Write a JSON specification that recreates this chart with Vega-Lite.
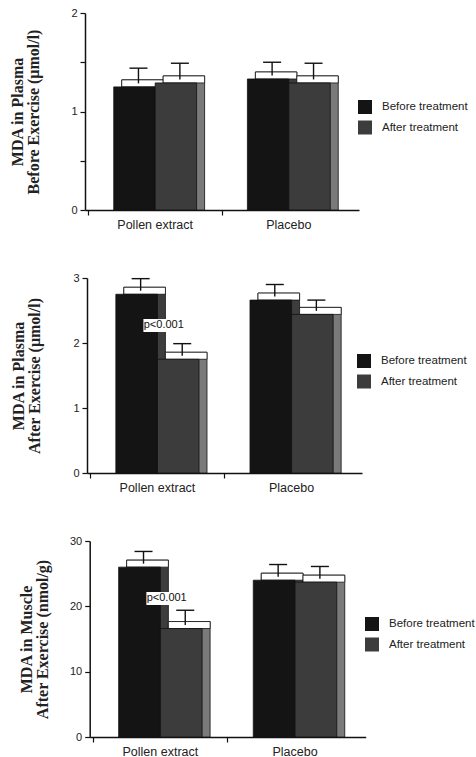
{
  "$schema": "https://vega.github.io/schema/vega-lite/v6.json",
  "background": "white",
  "padding": {"left": 9, "top": 7, "right": 0, "bottom": 0},
  "spacing": 68,
  "bounds": "flush",
  "resolve": {"scale": {"color": "independent"}, "legend": {"color": "independent"}},
  "config": {
    "view": {"stroke": null},
    "axis": {
      "domainColor": "#111111", "domainWidth": 1.5, "tickColor": "#111111", "tickWidth": 1.2, "tickSize": 5,
      "labelFont": "Liberation Sans", "labelColor": "#222222", "grid": false,
      "titleFont": "Liberation Serif", "titleFontSize": 16, "titleFontWeight": "bold", "titleColor": "#222222", "titleLineHeight": 16
    },
    "axisX": {"labelFontSize": 12.5, "labelPadding": 3, "labelAngle": 0},
    "axisY": {"labelFontSize": 11, "labelPadding": 3},
    "legend": {
      "orient": "none", "title": null, "symbolType": "square", "symbolSize": 196, "symbolStrokeWidth": 0,
      "labelFont": "Liberation Sans", "labelFontSize": 11.5, "labelColor": "#222222", "labelOffset": 10, "rowPadding": 6.5, "padding": 0
    }
  },
  "datasets": {
    "plasma_before": [
      {"group": "Pollen extract", "treat": "Before treatment", "value": 1.25, "hi": 1.44},
      {"group": "Pollen extract", "treat": "After treatment", "value": 1.29, "hi": 1.49},
      {"group": "Placebo", "treat": "Before treatment", "value": 1.33, "hi": 1.50},
      {"group": "Placebo", "treat": "After treatment", "value": 1.29, "hi": 1.49}
    ],
    "plasma_after": [
      {"group": "Pollen extract", "treat": "Before treatment", "value": 2.75, "hi": 2.99},
      {"group": "Pollen extract", "treat": "After treatment", "value": 1.75, "hi": 1.99},
      {"group": "Placebo", "treat": "Before treatment", "value": 2.66, "hi": 2.90},
      {"group": "Placebo", "treat": "After treatment", "value": 2.44, "hi": 2.66}
    ],
    "muscle_after": [
      {"group": "Pollen extract", "treat": "Before treatment", "value": 26.0, "hi": 28.4},
      {"group": "Pollen extract", "treat": "After treatment", "value": 16.6, "hi": 19.4},
      {"group": "Placebo", "treat": "Before treatment", "value": 24.0, "hi": 26.4},
      {"group": "Placebo", "treat": "After treatment", "value": 23.7, "hi": 26.1}
    ],
    "note_plasma": [
      {"group": "Pollen extract", "label": "p<0.001", "lo": 2.17, "mid": 2.27, "hi": 2.37}
    ],
    "note_muscle": [
      {"group": "Pollen extract", "label": "p<0.001", "lo": 20.2, "mid": 21.2, "hi": 22.2}
    ]
  },
  "vconcat": [
    {
      "width": 274, "height": 197,
      "data": {"name": "plasma_before"},
      "resolve": {"scale": {"x": "independent", "xOffset": "independent"}, "axis": {"x": "independent"}},
      "layer": [
        {"mark": {"type": "bar", "yOffset": -7, "y2Offset": 0, "stroke": "#111111", "strokeWidth": 0.8},
         "encoding": {
           "x": {"field": "group", "type": "nominal", "scale": {"domain": ["Pollen extract", "Placebo"], "range": [8, 282], "paddingInner": 0.38, "paddingOuter": 0.215}, "axis": null},
           "xOffset": {"field": "treat", "type": "nominal", "scale": {"domain": ["Before treatment", "After treatment"], "paddingInner": 0, "paddingOuter": 0}},
           "y": {"field": "value", "type": "quantitative", "scale": {"domain": [0, 2], "nice": false},
             "axis": {"title": ["MDA in Plasma", "Before Exercise (μmol/l)"], "values": [0, 0.5, 1, 1.5, 2], "labelExpr": "datum.value % 1 == 0 ? format(datum.value, 'd') : ''", "titlePadding": 29}},
           "y2": {"datum": 0},
           "fill": {"condition": {"test": "datum.treat == 'Before treatment'", "value": "#3d3d3d"}, "value": "#7a7a7a"}
         }},
        {"mark": {"type": "bar", "yOffset": -7, "y2Offset": 0, "fill": "white", "stroke": "#111111", "strokeWidth": 0.8},
         "encoding": {
           "x": {"field": "group", "type": "nominal", "scale": {"domain": ["Pollen extract", "Placebo"], "range": [8, 282], "paddingInner": 0.38, "paddingOuter": 0.215}, "axis": null},
           "xOffset": {"field": "treat", "type": "nominal", "scale": {"domain": ["Before treatment", "After treatment"], "paddingInner": 0, "paddingOuter": 0}},
           "y": {"field": "value", "type": "quantitative"},
           "y2": {"field": "value"}
         }},
        {"mark": {"type": "bar", "stroke": "#111111", "strokeWidth": 0.8},
         "encoding": {
           "x": {"field": "group", "type": "nominal", "scale": {"domain": ["Pollen extract", "Placebo"], "range": [0, 274], "paddingInner": 0.38, "paddingOuter": 0.215},
             "axis": {"title": null, "orient": "bottom", "bandPosition": -0.306}},
           "xOffset": {"field": "treat", "type": "nominal", "scale": {"domain": ["Before treatment", "After treatment"], "paddingInner": 0, "paddingOuter": 0}},
           "y": {"field": "value", "type": "quantitative"},
           "color": {"field": "treat", "type": "nominal", "scale": {"domain": ["Before treatment", "After treatment"], "range": ["#141414", "#3c3c3c"]},
             "legend": {"legendX": 273, "legendY": 87}}
         }},
        {"mark": {"type": "rule", "yOffset": -3.5, "strokeWidth": 1.4, "color": "#111111"},
         "encoding": {
           "x": {"field": "group", "type": "nominal", "scale": {"domain": ["Pollen extract", "Placebo"], "range": [4, 278], "paddingInner": 0.38, "paddingOuter": 0.215}, "axis": null},
           "xOffset": {"field": "treat", "type": "nominal", "scale": {"domain": ["Before treatment", "After treatment"], "paddingInner": 0, "paddingOuter": 0}},
           "y": {"field": "value", "type": "quantitative"},
           "y2": {"field": "hi"}
         }},
        {"mark": {"type": "tick", "size": 18, "thickness": 1.4, "color": "#111111", "opacity": 1},
         "encoding": {
           "x": {"field": "group", "type": "nominal", "scale": {"domain": ["Pollen extract", "Placebo"], "range": [4, 278], "paddingInner": 0.38, "paddingOuter": 0.215}, "axis": null},
           "xOffset": {"field": "treat", "type": "nominal", "scale": {"domain": ["Before treatment", "After treatment"], "paddingInner": 0, "paddingOuter": 0}},
           "y": {"field": "hi", "type": "quantitative"}
         }}
      ]
    },
    {
      "width": 274, "height": 195,
      "data": {"name": "plasma_after"},
      "resolve": {"scale": {"x": "independent", "xOffset": "independent"}, "axis": {"x": "independent"}},
      "layer": [
        {"mark": {"type": "bar", "yOffset": -7, "y2Offset": 0, "stroke": "#111111", "strokeWidth": 0.8},
         "encoding": {
           "x": {"field": "group", "type": "nominal", "scale": {"domain": ["Pollen extract", "Placebo"], "range": [10, 285], "paddingInner": 0.38, "paddingOuter": 0.215}, "axis": null},
           "xOffset": {"field": "treat", "type": "nominal", "scale": {"domain": ["Before treatment", "After treatment"], "paddingInner": 0, "paddingOuter": 0}},
           "y": {"field": "value", "type": "quantitative", "scale": {"domain": [0, 3], "nice": false},
             "axis": {"title": ["MDA in Plasma", "After Exercise (μmol/l)"], "values": [0, 0.5, 1, 1.5, 2, 2.5, 3], "labelExpr": "datum.value % 1 == 0 ? format(datum.value, 'd') : ''", "titlePadding": 30, "offset": -2}},
           "y2": {"datum": 0},
           "fill": {"condition": {"test": "datum.treat == 'Before treatment'", "value": "#3d3d3d"}, "value": "#7a7a7a"}
         }},
        {"mark": {"type": "bar", "yOffset": -7, "y2Offset": 0, "fill": "white", "stroke": "#111111", "strokeWidth": 0.8},
         "encoding": {
           "x": {"field": "group", "type": "nominal", "scale": {"domain": ["Pollen extract", "Placebo"], "range": [10, 285], "paddingInner": 0.38, "paddingOuter": 0.215}, "axis": null},
           "xOffset": {"field": "treat", "type": "nominal", "scale": {"domain": ["Before treatment", "After treatment"], "paddingInner": 0, "paddingOuter": 0}},
           "y": {"field": "value", "type": "quantitative"},
           "y2": {"field": "value"}
         }},
        {"mark": {"type": "bar", "stroke": "#111111", "strokeWidth": 0.8},
         "encoding": {
           "x": {"field": "group", "type": "nominal", "scale": {"domain": ["Pollen extract", "Placebo"], "range": [2, 277], "paddingInner": 0.38, "paddingOuter": 0.215},
             "axis": {"title": null, "orient": "bottom", "bandPosition": -0.306}},
           "xOffset": {"field": "treat", "type": "nominal", "scale": {"domain": ["Before treatment", "After treatment"], "paddingInner": 0, "paddingOuter": 0}},
           "y": {"field": "value", "type": "quantitative"},
           "color": {"field": "treat", "type": "nominal", "scale": {"domain": ["Before treatment", "After treatment"], "range": ["#141414", "#3c3c3c"]},
             "legend": {"legendX": 272, "legendY": 76}}
         }},
        {"mark": {"type": "rule", "yOffset": -3.5, "strokeWidth": 1.4, "color": "#111111"},
         "encoding": {
           "x": {"field": "group", "type": "nominal", "scale": {"domain": ["Pollen extract", "Placebo"], "range": [6, 281], "paddingInner": 0.38, "paddingOuter": 0.215}, "axis": null},
           "xOffset": {"field": "treat", "type": "nominal", "scale": {"domain": ["Before treatment", "After treatment"], "paddingInner": 0, "paddingOuter": 0}},
           "y": {"field": "value", "type": "quantitative"},
           "y2": {"field": "hi"}
         }},
        {"mark": {"type": "tick", "size": 18, "thickness": 1.4, "color": "#111111", "opacity": 1},
         "encoding": {
           "x": {"field": "group", "type": "nominal", "scale": {"domain": ["Pollen extract", "Placebo"], "range": [6, 281], "paddingInner": 0.38, "paddingOuter": 0.215}, "axis": null},
           "xOffset": {"field": "treat", "type": "nominal", "scale": {"domain": ["Before treatment", "After treatment"], "paddingInner": 0, "paddingOuter": 0}},
           "y": {"field": "hi", "type": "quantitative"}
         }},
        {"data": {"name": "note_plasma"},
         "mark": {"type": "bar", "width": 44, "fill": "white"},
         "encoding": {
           "x": {"field": "group", "type": "nominal", "scale": {"domain": ["Pollen extract", "Placebo"], "range": [10, 285], "paddingInner": 0.38, "paddingOuter": 0.215}, "axis": null},
           "y": {"field": "lo", "type": "quantitative"}, "y2": {"field": "hi"}}},
        {"data": {"name": "note_plasma"},
         "mark": {"type": "text", "font": "Liberation Sans", "fontSize": 11, "color": "#111111", "baseline": "middle"},
         "encoding": {
           "x": {"field": "group", "type": "nominal", "scale": {"domain": ["Pollen extract", "Placebo"], "range": [10, 285], "paddingInner": 0.38, "paddingOuter": 0.215}, "axis": null},
           "y": {"field": "mid", "type": "quantitative"}, "text": {"field": "label"}}}
      ]
    },
    {
      "width": 274, "height": 196,
      "data": {"name": "muscle_after"},
      "resolve": {"scale": {"x": "independent", "xOffset": "independent"}, "axis": {"x": "independent"}},
      "layer": [
        {"mark": {"type": "bar", "yOffset": -7, "y2Offset": 0, "stroke": "#111111", "strokeWidth": 0.8},
         "encoding": {
           "x": {"field": "group", "type": "nominal", "scale": {"domain": ["Pollen extract", "Placebo"], "range": [12.7, 288.7], "paddingInner": 0.38, "paddingOuter": 0.215}, "axis": null},
           "xOffset": {"field": "treat", "type": "nominal", "scale": {"domain": ["Before treatment", "After treatment"], "paddingInner": 0, "paddingOuter": 0}},
           "y": {"field": "value", "type": "quantitative", "scale": {"domain": [0, 30], "nice": false},
             "axis": {"title": ["MDA in Muscle", "After Exercise (nmol/g)"], "values": [0, 5, 10, 15, 20, 25, 30], "labelExpr": "datum.value % 10 == 0 ? format(datum.value, 'd') : ''", "titlePadding": 19, "offset": -4.7}},
           "y2": {"datum": 0},
           "fill": {"condition": {"test": "datum.treat == 'Before treatment'", "value": "#3d3d3d"}, "value": "#7a7a7a"}
         }},
        {"mark": {"type": "bar", "yOffset": -7, "y2Offset": 0, "fill": "white", "stroke": "#111111", "strokeWidth": 0.8},
         "encoding": {
           "x": {"field": "group", "type": "nominal", "scale": {"domain": ["Pollen extract", "Placebo"], "range": [12.7, 288.7], "paddingInner": 0.38, "paddingOuter": 0.215}, "axis": null},
           "xOffset": {"field": "treat", "type": "nominal", "scale": {"domain": ["Before treatment", "After treatment"], "paddingInner": 0, "paddingOuter": 0}},
           "y": {"field": "value", "type": "quantitative"},
           "y2": {"field": "value"}
         }},
        {"mark": {"type": "bar", "stroke": "#111111", "strokeWidth": 0.8},
         "encoding": {
           "x": {"field": "group", "type": "nominal", "scale": {"domain": ["Pollen extract", "Placebo"], "range": [4.7, 280.7], "paddingInner": 0.38, "paddingOuter": 0.215},
             "axis": {"title": null, "orient": "bottom", "bandPosition": -0.306}},
           "xOffset": {"field": "treat", "type": "nominal", "scale": {"domain": ["Before treatment", "After treatment"], "paddingInner": 0, "paddingOuter": 0}},
           "y": {"field": "value", "type": "quantitative"},
           "color": {"field": "treat", "type": "nominal", "scale": {"domain": ["Before treatment", "After treatment"], "range": ["#141414", "#3c3c3c"]},
             "legend": {"legendX": 280, "legendY": 76}}
         }},
        {"mark": {"type": "rule", "yOffset": -3.5, "strokeWidth": 1.4, "color": "#111111"},
         "encoding": {
           "x": {"field": "group", "type": "nominal", "scale": {"domain": ["Pollen extract", "Placebo"], "range": [8.7, 284.7], "paddingInner": 0.38, "paddingOuter": 0.215}, "axis": null},
           "xOffset": {"field": "treat", "type": "nominal", "scale": {"domain": ["Before treatment", "After treatment"], "paddingInner": 0, "paddingOuter": 0}},
           "y": {"field": "value", "type": "quantitative"},
           "y2": {"field": "hi"}
         }},
        {"mark": {"type": "tick", "size": 18, "thickness": 1.4, "color": "#111111", "opacity": 1},
         "encoding": {
           "x": {"field": "group", "type": "nominal", "scale": {"domain": ["Pollen extract", "Placebo"], "range": [8.7, 284.7], "paddingInner": 0.38, "paddingOuter": 0.215}, "axis": null},
           "xOffset": {"field": "treat", "type": "nominal", "scale": {"domain": ["Before treatment", "After treatment"], "paddingInner": 0, "paddingOuter": 0}},
           "y": {"field": "hi", "type": "quantitative"}
         }},
        {"data": {"name": "note_muscle"},
         "mark": {"type": "bar", "width": 44, "fill": "white"},
         "encoding": {
           "x": {"field": "group", "type": "nominal", "scale": {"domain": ["Pollen extract", "Placebo"], "range": [12.7, 288.7], "paddingInner": 0.38, "paddingOuter": 0.215}, "axis": null},
           "y": {"field": "lo", "type": "quantitative"}, "y2": {"field": "hi"}}},
        {"data": {"name": "note_muscle"},
         "mark": {"type": "text", "font": "Liberation Sans", "fontSize": 11, "color": "#111111", "baseline": "middle"},
         "encoding": {
           "x": {"field": "group", "type": "nominal", "scale": {"domain": ["Pollen extract", "Placebo"], "range": [12.7, 288.7], "paddingInner": 0.38, "paddingOuter": 0.215}, "axis": null},
           "y": {"field": "mid", "type": "quantitative"}, "text": {"field": "label"}}}
      ]
    }
  ]
}
